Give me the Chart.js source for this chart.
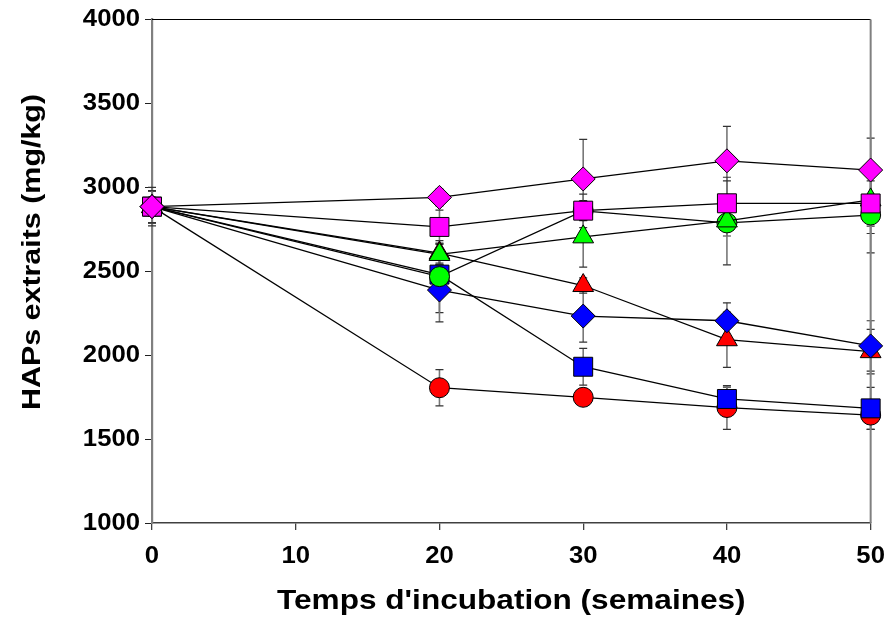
<!DOCTYPE html>
<html>
<head>
<meta charset="utf-8">
<script src="https://cdn.jsdelivr.net/npm/chart.js@4/dist/chart.umd.min.js"></script>
<style>
  html, body { margin: 0; padding: 0; background: #ffffff; }
  canvas { display: block; }
</style>
</head>
<body>
<canvas id="c" width="896" height="618"></canvas>
<script>
// ---- data ----
const weeks = [0, 20, 30, 40, 50];
const xTicks = [0, 10, 20, 30, 40, 50];
const yTicks = [1000, 1500, 2000, 2500, 3000, 3500, 4000];

const magentaDiamond = [2885, 2940, 3050, 3158, 3103];
const magentaSquare  = [2885, 2764, 2861, 2905, 2904];
const greenTriangle  = [2885, 2600, 2705, 2800, 2925];
const greenCircle    = [2885, 2468, 2860, 2788, 2835];
const blueDiamond    = [2885, 2388, 2233, 2205, 2055];
const redTriangle    = [2885, 2608, 2415, 2092, 2021];
const blueSquare     = [2885, 2480, 1931, 1739, 1683];
const redCircle      = [2885, 1806, 1749, 1688, 1643];

const magentaDiamondErr = [95, 50, 236, 205, 190];
const magentaSquareErr  = [95, 100, 60, 155, 135];
const greenTriangleErr  = [95, 60, 180, 90, 200];
const greenCircleErr    = [115, 215, 100, 250, 225];
const blueDiamondErr    = [95, 190, 155, 107, 150];
const redTriangleErr    = [95, 60, 45, 165, 133];
const blueSquareErr     = [95, 60, 110, 70, 125];
const redCircleErr      = [95, 108, 50, 130, 85];

const xTitle = "Temps d'incubation (semaines)";
const yTitle = "HAPs extraits (mg/kg)";

// ---- text rendering: wide bold face like the reference ----
const TICK_STRETCH = 1.07;
const TITLE_STRETCH = 1.17;
const canvas = document.getElementById('c');
const ctx0 = canvas.getContext('2d');
const origFill = ctx0.fillText;
ctx0.fillText = function (t, x, y, m) {
  const mm = /(\d+(?:\.\d+)?)px/.exec(this.font);
  const size = mm ? parseFloat(mm[1]) : 12;
  const k = size <= 24 ? TICK_STRETCH : TITLE_STRETCH;
  this.save();
  this.translate(x, y);
  this.scale(k, 1);
  if (m === undefined || m === null) origFill.call(this, t, 0, 0);
  else origFill.call(this, t, 0, 0, m / k);
  this.restore();
};

const FONT = '"Liberation Sans", Arial, sans-serif';

function series(values, errs, style, radius, color) {
  return {
    data: weeks.map((w, i) => ({ x: w, y: values[i] })),
    errors: errs,
    showLine: true,
    borderColor: '#000000',
    borderWidth: 1.3,
    pointStyle: style,
    pointRadius: radius,
    pointHoverRadius: radius,
    pointBackgroundColor: color,
    pointBorderColor: '#000000',
    pointBorderWidth: 1,
    fill: false,
    tension: 0,
    clip: false
  };
}

const errorBars = {
  id: 'errorBars',
  beforeDatasetsDraw(chart) {
    const ctx = chart.ctx;
    const xs = chart.scales.x, ys = chart.scales.y;
    ctx.save();
    chart.data.datasets.forEach(ds => {
      ds.data.forEach((p, i) => {
        const e = ds.errors[i];
        const px = xs.getPixelForValue(p.x);
        const yTop = ys.getPixelForValue(p.y + e);
        const yBot = ys.getPixelForValue(p.y - e);
        ctx.strokeStyle = '#777777';
        ctx.lineWidth = 1.6;
        ctx.beginPath();
        ctx.moveTo(px, yTop); ctx.lineTo(px, yBot);
        ctx.stroke();
        ctx.strokeStyle = '#333333';
        ctx.lineWidth = 1.2;
        ctx.beginPath();
        ctx.moveTo(px - 4, yTop); ctx.lineTo(px + 4, yTop);
        ctx.moveTo(px - 4, yBot); ctx.lineTo(px + 4, yBot);
        ctx.stroke();
      });
    });
    ctx.restore();
  }
};

const frameAndTitles = {
  id: 'frameAndTitles',
  beforeDatasetsDraw(chart) {
    const ctx = chart.ctx;
    const a = chart.chartArea;
    ctx.save();
    ctx.strokeStyle = '#000000';
    ctx.lineWidth = 1.2;
    ctx.beginPath();
    ctx.moveTo(a.left, a.top); ctx.lineTo(a.right, a.top);
    ctx.stroke();
    ctx.strokeStyle = '#808080';
    ctx.lineWidth = 2;
    ctx.beginPath();
    ctx.moveTo(a.right, a.top); ctx.lineTo(a.right, a.bottom);
    ctx.stroke();
    ctx.restore();
  },
  afterDraw(chart) {
    const ctx = chart.ctx;
    const a = chart.chartArea;
    ctx.save();
    ctx.fillStyle = '#000000';
    ctx.font = 'bold 27px ' + FONT;
    ctx.textAlign = 'center';
    ctx.textBaseline = 'alphabetic';
    ctx.fillText(xTitle, (a.left + a.right) / 2, 609);
    ctx.translate(40, 252);
    ctx.rotate(-Math.PI / 2);
    ctx.font = 'bold 26px ' + FONT;
    ctx.fillText(yTitle, 0, 0);
    ctx.restore();
  }
};

new Chart(ctx0, {
  type: 'scatter',
  data: {
    datasets: [
      series(magentaDiamond, magentaDiamondErr, 'rectRot', 12, '#FF00FF'),
      series(magentaSquare,  magentaSquareErr,  'rect', 13.4, '#FF00FF'),
      series(greenTriangle,  greenTriangleErr,  'triangle', 12, '#00FF00'),
      series(greenCircle,    greenCircleErr,    'circle', 10, '#00FF00'),
      series(blueDiamond,    blueDiamondErr,    'rectRot', 12, '#0000FF'),
      series(redTriangle,    redTriangleErr,    'triangle', 12, '#FF0000'),
      series(blueSquare,     blueSquareErr,     'rect', 13.4, '#0000FF'),
      series(redCircle,      redCircleErr,      'circle', 10, '#FF0000')
    ]
  },
  options: {
    responsive: false,
    animation: false,
    devicePixelRatio: 1,
    layout: { padding: { top: 19.5, right: 24, left: 0, bottom: 0 } },
    plugins: { legend: { display: false }, tooltip: { enabled: false } },
    scales: {
      x: {
        type: 'linear',
        min: xTicks[0], max: xTicks[xTicks.length - 1],
        afterBuildTicks(s) { s.ticks = xTicks.map(v => ({ value: v })); },
        ticks: { font: { family: FONT, size: 24, weight: 'bold' }, color: '#000000', padding: 12, maxRotation: 0, autoSkip: false,
                 callback: v => String(v) },
        grid: { drawOnChartArea: false, drawTicks: true, tickLength: 7, color: '#404040', lineWidth: 1.3 },
        border: { display: true, color: '#404040', width: 1.6 },
        afterFit(s) { s.height = 95; }
      },
      y: {
        type: 'linear',
        min: yTicks[0], max: yTicks[yTicks.length - 1],
        afterBuildTicks(s) { s.ticks = yTicks.map(v => ({ value: v })); },
        ticks: { font: { family: FONT, size: 24, weight: 'bold' }, color: '#000000', padding: 5, autoSkip: false,
                 callback: v => String(v) },
        grid: { drawOnChartArea: false, drawTicks: true, tickLength: 7, color: '#202020', lineWidth: 1 },
        border: { display: true, color: '#808080', width: 2.2 },
        afterFit(s) { s.width = 152; }
      }
    }
  },
  plugins: [errorBars, frameAndTitles]
});
</script>
</body>
</html>
